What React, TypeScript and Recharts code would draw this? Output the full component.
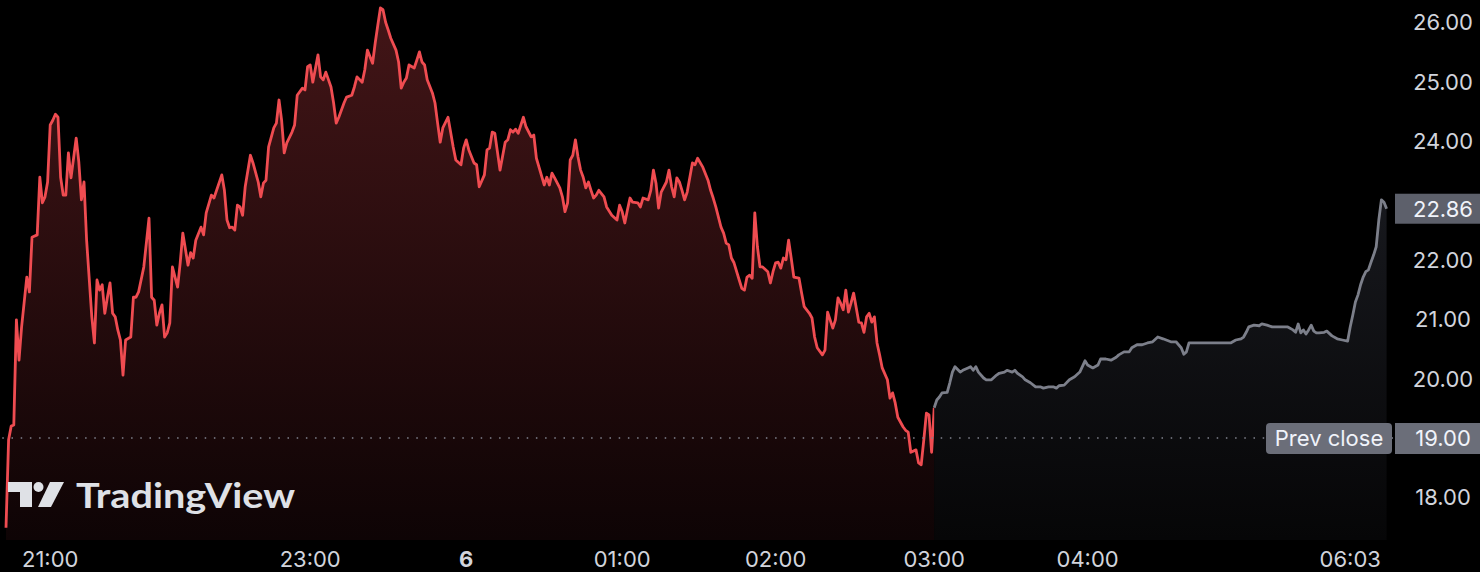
import React from 'react';
import { ComposedChart, Area, XAxis, YAxis, ReferenceLine } from 'recharts';

// 1-minute bar index (session bars) and prices
const redBars = [
  0, 1, 2, 3, 4, 5, 6, 8, 9, 10, 12, 13, 14, 15, 16, 17, 18, 19, 20, 21, 22, 23, 24, 25, 27, 28, 29, 30, 31, 33,
  34, 35, 36, 37, 38, 39, 40, 41, 42, 43, 44, 45, 46, 48, 49, 50, 51, 53, 55, 56, 57, 58, 59, 60, 61, 62, 63, 64, 66, 67,
  68, 70, 71, 72, 73, 75, 76, 77, 79, 80, 83, 84, 85, 86, 87, 88, 89, 90, 91, 92, 94, 95, 97, 98, 99, 100, 101, 103, 104, 105,
  106, 107, 108, 110, 111, 112, 114, 115, 116, 117, 118, 120, 121, 122, 123, 125, 126, 127, 128, 130, 131, 133, 134, 135, 137, 138, 139, 141, 142, 143,
  144, 145, 146, 147, 148, 150, 151, 152, 153, 154, 155, 157, 158, 159, 160, 161, 162, 164, 165, 166, 167, 168, 170, 171, 172, 173, 175, 176, 177, 178,
  180, 181, 182, 184, 185, 186, 187, 188, 190, 192, 193, 194, 195, 196, 197, 199, 200, 202, 203, 204, 207, 208, 209, 210, 211, 213, 214, 215, 216, 217,
  218, 219, 220, 221, 222, 223, 224, 225, 226, 227, 228, 230, 231, 233, 235, 236, 237, 238, 239, 240, 241, 243, 244, 245, 247, 248, 249, 250, 251, 252,
  254, 255, 256, 257, 258, 259, 260, 261, 262, 264, 265, 266, 268, 270, 271, 272, 273, 275, 276, 277, 278, 279, 280, 282, 283, 284, 285, 286, 287, 288,
  289, 290, 291, 293, 294, 295, 296, 297, 298, 299, 300, 301, 302, 303, 305, 306, 307, 309, 310, 311, 312, 314, 315, 316, 318, 319, 320, 321, 322, 323,
  324, 325, 326, 328, 329, 330, 331, 332, 333, 334, 335, 336, 337, 339, 340, 341, 342, 343, 345, 346, 347, 348, 350, 351, 352, 353, 354, 355, 356, 357,
];
const redPrices = [
  17.49, 18.97, 19.2, 19.22, 20.99, 20.31, 20.87, 21.71, 21.46, 22.38, 22.42, 23.39, 22.96, 23.06, 23.31, 24.27, 24.35, 24.45, 24.4, 23.39, 23.09, 23.09, 23.8, 23.38, 24.05, 23.65, 23.01, 23.31, 22.33, 21.04,
  20.6, 21.66, 21.49, 21.58, 21.1, 21.37, 21.61, 21.1, 21.04, 20.82, 20.65, 20.06, 20.65, 20.7, 21.37, 21.37, 21.46, 21.88, 22.7, 21.37, 21.32, 20.9, 21.1, 21.24, 20.7, 20.77, 20.94, 21.88, 21.54, 21.95,
  22.45, 21.91, 22.12, 22.03, 22.33, 22.55, 22.42, 22.79, 23.09, 23.04, 23.43, 23.17, 22.67, 22.54, 22.55, 22.5, 22.92, 22.89, 22.75, 23.23, 23.76, 23.63, 23.31, 23.06, 23.29, 23.34, 23.9, 24.22, 24.3, 24.69,
  24.35, 23.8, 23.97, 24.15, 24.27, 24.77, 24.89, 24.86, 25.25, 25.28, 24.99, 25.45, 25.08, 25.03, 25.16, 24.91, 24.64, 24.3, 24.4, 24.64, 24.74, 24.77, 24.91, 25.08, 24.99, 25.2, 25.53, 25.31, 25.65, 25.95,
  26.24, 26.21, 26.0, 25.87, 25.73, 25.53, 25.33, 24.89, 24.99, 25.06, 25.28, 25.23, 25.36, 25.5, 25.33, 25.28, 25.03, 24.81, 24.64, 24.3, 23.98, 24.22, 24.4, 24.15, 23.9, 23.68, 23.6, 23.88, 24.02, 23.85,
  23.63, 23.6, 23.23, 23.43, 23.85, 23.88, 24.15, 24.13, 23.51, 23.98, 24.02, 24.19, 24.15, 24.2, 24.13, 24.4, 24.24, 24.07, 24.1, 23.71, 23.26, 23.39, 23.26, 23.46, 23.38, 23.21, 23.06, 22.81, 22.96, 23.68,
  23.76, 24.02, 23.73, 23.51, 23.39, 23.21, 23.31, 23.17, 23.04, 23.09, 23.17, 23.06, 22.89, 22.75, 22.67, 22.92, 22.81, 22.62, 22.84, 23.04, 22.97, 22.96, 22.89, 23.04, 23.01, 23.17, 23.51, 23.29, 22.87, 23.14,
  23.31, 23.51, 23.23, 23.06, 23.38, 23.31, 23.17, 23.01, 23.14, 23.63, 23.6, 23.71, 23.56, 23.34, 23.17, 23.04, 22.89, 22.55, 22.45, 22.28, 22.25, 22.03, 21.95, 21.66, 21.52, 21.49, 21.71, 21.74, 21.69, 22.79,
  22.22, 21.88, 21.88, 21.8, 21.61, 21.8, 21.95, 21.96, 21.86, 22.03, 22.0, 22.33, 22.03, 21.71, 21.69, 21.44, 21.21, 21.1, 21.02, 20.7, 20.52, 20.4, 20.48, 21.12, 20.85, 20.99, 21.36, 21.27, 21.16, 21.49,
  21.12, 21.27, 21.44, 20.95, 20.94, 20.78, 21.04, 21.1, 20.95, 21.04, 20.6, 20.4, 20.18, 19.98, 19.67, 19.76, 19.59, 19.35, 19.19, 19.13, 19.1, 18.76, 18.8, 18.58, 18.55, 18.97, 19.42, 19.39, 18.76, 19.51,
];
const grayBars = [
  357, 358, 359, 360, 362, 363, 364, 365, 367, 368, 370, 371, 372, 373, 374, 376, 377, 379, 381, 382, 384, 385, 387, 388, 389, 391, 392, 394, 396, 398,
  399, 401, 403, 404, 405, 407, 409, 411, 413, 415, 416, 418, 420, 421, 423, 425, 427, 428, 430, 432, 433, 435, 437, 439, 441, 443, 445, 448, 450, 452,
  453, 454, 455, 457, 460, 466, 471, 473, 475, 476, 477, 478, 480, 482, 483, 485, 487, 489, 491, 493, 495, 496, 497, 498, 499, 500, 501, 502, 503, 504,
  505, 507, 508, 510, 512, 514, 516, 517, 518, 519, 520, 521, 522, 523, 524, 525, 526, 527, 528, 529, 530, 531,
];
const grayPrices = [
  19.51, 19.64, 19.69, 19.76, 19.77, 19.93, 20.11, 20.2, 20.11, 20.14, 20.18, 20.2, 20.14, 20.2, 20.11, 20.01, 19.98, 19.98, 20.06, 20.09, 20.11, 20.14, 20.11, 20.14, 20.09, 20.03, 19.98, 19.93, 19.86, 19.86,
  19.84, 19.86, 19.86, 19.84, 19.88, 19.89, 19.98, 20.03, 20.11, 20.3, 20.23, 20.18, 20.23, 20.33, 20.33, 20.31, 20.36, 20.4, 20.45, 20.45, 20.52, 20.57, 20.57, 20.6, 20.62, 20.7, 20.67, 20.62, 20.62, 20.52,
  20.41, 20.45, 20.6, 20.6, 20.6, 20.6, 20.6, 20.65, 20.67, 20.7, 20.78, 20.87, 20.9, 20.89, 20.92, 20.9, 20.87, 20.87, 20.87, 20.87, 20.82, 20.78, 20.92, 20.77, 20.82, 20.75, 20.82, 20.9, 20.8, 20.77,
  20.77, 20.78, 20.8, 20.72, 20.67, 20.65, 20.63, 20.87, 21.07, 21.29, 21.41, 21.58, 21.71, 21.8, 21.83, 21.96, 22.08, 22.22, 22.67, 23.01, 22.97, 22.86,
];

const prevClose = 19.0;
const xTickBars = [17, 117, 177, 237, 296, 357, 416, 517];
const xTickLabels = ['21:00', '23:00', '6', '01:00', '02:00', '03:00', '04:00', '06:03'];
const yTicks = [18, 20, 21, 22, 24, 25, 26];

type Row = { bar: number; red?: number; gray?: number };
const rowMap = new Map<number, Row>();
redBars.forEach((b, i) => rowMap.set(b, { bar: b, red: redPrices[i] }));
grayBars.forEach((b, i) => {
  const r = rowMap.get(b) || { bar: b };
  r.gray = grayPrices[i];
  rowMap.set(b, r);
});
const data = Array.from(rowMap.values()).sort((a, b) => a.bar - b.bar);
const lastPrice = grayPrices[grayPrices.length - 1];

const FONT = 'Inter, "Noto Sans", sans-serif';
const TICK_COLOR = '#d1d4dc';

const XTick = (props: any) => {
  const { x, y, payload } = props;
  const i = xTickBars.indexOf(payload.value);
  const label = i >= 0 ? xTickLabels[i] : '';
  return (
    <text x={x} y={y + 27} textAnchor="middle" fill={TICK_COLOR} fontSize={22} fontFamily={FONT} fontWeight={label === '6' ? 700 : 400}>
      {label}
    </text>
  );
};

const YTick = (props: any) => {
  const { x, y, payload } = props;
  return (
    <text x={x + 50} y={y + 8} textAnchor="middle" fill={TICK_COLOR} fontSize={22} fontFamily={FONT}>
      {Number(payload.value).toFixed(2)}
    </text>
  );
};

const PrevCloseLabel = (props: any) => {
  const vb = props.viewBox || {};
  const right = (vb.x || 0) + (vb.width || 0);
  const y = vb.y || 0;
  return (
    <g>
      <rect x={right - 127} y={y - 15} width={126} height={31} rx={4} fill="#6b6e79" />
      <text x={right - 64} y={y + 8} textAnchor="middle" fill="#f0f3fa" fontSize={22} fontFamily={FONT}>Prev close</text>
      <rect x={right + 2} y={y - 15} width={95} height={31} fill="#6b6e79" />
      <text x={right + 50} y={y + 8} textAnchor="middle" fill="#f0f3fa" fontSize={22} fontFamily={FONT}>{prevClose.toFixed(2)}</text>
    </g>
  );
};

const LastPriceLabel = (props: any) => {
  const vb = props.viewBox || {};
  const right = (vb.x || 0) + (vb.width || 0);
  const y = vb.y || 0;
  return (
    <g>
      <rect x={right + 2} y={y - 15} width={95} height={30} fill="#5d606b" />
      <text x={right + 50} y={y + 8} textAnchor="middle" fill="#f0f3fa" fontSize={22} fontFamily={FONT}>{lastPrice.toFixed(2)}</text>
    </g>
  );
};

const Logo = () => (
  <svg width={1480} height={572} style={{ position: 'absolute', left: 0, top: 0, pointerEvents: 'none' }}>
    <g fill="#dfe1e6">
      <rect x={8} y={482} width={24} height={10} />
      <rect x={20} y={482} width={12} height={25} />
      <circle cx={38.5} cy={487} r={5} />
      <polygon points="50,482 64,482 51,507 38,507" />
      <text x={76} y={508} fontSize={34} fontWeight={700} fontFamily="Lato, Inter, sans-serif" textLength={219} lengthAdjust="spacingAndGlyphs">
        TradingView
      </text>
    </g>
  </svg>
);

export default function App() {
  return (
    <div style={{ position: 'absolute', left: 0, top: 0, width: 1480, height: 572, background: '#000', overflow: 'hidden' }}>
      <ComposedChart width={1480} height={572} data={data} margin={{ top: 0, right: 0, bottom: 0, left: 0 }}>
        <defs>
          <linearGradient id="redFill" x1="0" y1="0" x2="0" y2="1">
            <stop offset="0%" stopColor="#431517" />
            <stop offset="100%" stopColor="#0e0405" />
          </linearGradient>
          <linearGradient id="grayFill" x1="0" y1="0" x2="0" y2="1">
            <stop offset="0%" stopColor="#17181d" />
            <stop offset="100%" stopColor="#060607" />
          </linearGradient>
        </defs>
        <XAxis
          dataKey="bar"
          type="number"
          domain={[-2.31, 533.46]}
          allowDataOverflow
          ticks={xTickBars}
          interval={0}
          axisLine={false}
          tickLine={false}
          tickSize={0}
          tickMargin={0}
          height={32}
          tick={<XTick />}
        />
        <YAxis
          orientation="right"
          type="number"
          domain={[17.283, 26.374]}
          allowDataOverflow
          ticks={yTicks}
          interval={0}
          axisLine={false}
          tickLine={false}
          tickSize={0}
          tickMargin={0}
          width={87}
          tick={<YTick />}
        />
        <Area
          type="linear"
          dataKey="red"
          stroke="#ef4c51"
          strokeWidth={2.8}
          strokeLinejoin="round"
          fill="url(#redFill)"
          fillOpacity={1}
          isAnimationActive={false}
          dot={false}
          activeDot={false}
        />
        <Area
          type="linear"
          dataKey="gray"
          stroke="#7c7f8a"
          strokeWidth={2.8}
          strokeLinejoin="round"
          fill="url(#grayFill)"
          fillOpacity={1}
          isAnimationActive={false}
          dot={false}
          activeDot={false}
        />
        <ReferenceLine y={prevClose} stroke="#80838e" strokeWidth={1.5} strokeDasharray="1.5 7.7" label={<PrevCloseLabel />} />
        <ReferenceLine y={lastPrice} stroke="none" strokeOpacity={0} label={<LastPriceLabel />} />
      </ComposedChart>
      <Logo />
    </div>
  );
}
